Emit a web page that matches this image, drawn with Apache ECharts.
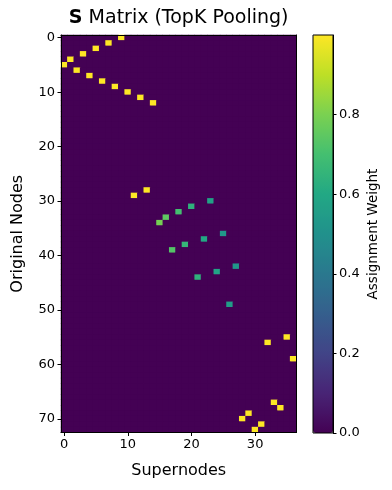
<!DOCTYPE html>
<html><head><meta charset="utf-8">
<script src="https://cdn.jsdelivr.net/npm/echarts@6/dist/echarts.min.js"></script>
<style>html,body{margin:0;padding:0;background:#fff}#c{width:392px;height:490px}</style>
</head><body><div id="c"></div>
<script>
// Matrix size
const nRows = 73;   // Original Nodes
const nCols = 37;   // Supernodes
// Non-zero assignments (row, column, weight)
const rowIdx = [0,1,2,3,4,5,6,7,8,9,10,11,12,
  28,29,30,31,32,33,34,36,37,38,39,42,43,44,49,
  55,56,59,67,68,69,70,71,72];
const colIdx = [9,7,5,3,1,0,2,4,6,8,10,12,14,
  13,11,23,20,18,16,15,25,22,19,17,27,24,21,26,
  35,32,36,33,34,29,28,31,30];
const weights = [1.0,1.0,1.0,1.0,1.0,1.0,1.0,1.0,1.0,1.0,1.0,1.0,1.0,
  1.0,1.0,0.57,0.64,0.70,0.75,0.79,0.53,0.60,0.66,0.73,0.52,0.58,0.64,0.55,
  1.0,1.0,1.0,1.0,1.0,1.0,1.0,1.0,1.0];
const xTickLabels = ['0','10','20','30'];
const yTickLabels = ['0','10','20','30','40','50','60','70'];
const cbarTicks = [0.0,0.2,0.4,0.6,0.8];

const viridis = ['#440154','#482475','#414487','#355f8d','#2a788e','#21918c','#22a884','#44bf70','#7ad151','#bddf26','#fde725'];

const xCats = Array.from({length:nCols},(_,i)=>String(i));
const yCats = Array.from({length:nRows},(_,i)=>String(i));
const grid = [];
for (let r=0;r<nRows;r++) { grid.push(new Array(nCols).fill(0)); }
rowIdx.forEach((r,k)=>{ grid[r][colIdx[k]] = weights[k]; });
const data = [];
for (let r=0;r<nRows;r++) for (let c=0;c<nCols;c++) data.push([c,r,grid[r][c]]);

const font = 'DejaVu Sans';
const chart = echarts.init(document.getElementById('c'));
const frameAxis = {show:true,axisLine:{show:true,lineStyle:{color:'#000',width:1}},axisTick:{show:false},axisLabel:{show:false},splitLine:{show:false}};
chart.setOption({
  animation:false,
  backgroundColor:'#fff',
  title:{
    text:'{b|S} Matrix (TopK Pooling)',
    left:178.7, textAlign:'center', top:9, padding:0,
    textStyle:{fontFamily:font,fontSize:19,fontWeight:'normal',color:'#000',
      rich:{b:{fontFamily:font,fontSize:19,fontWeight:'bold',color:'#000'}}}
  },
  grid:[
    {left:61,top:35,width:235.5,height:397.5,show:true,borderWidth:0,backgroundColor:viridis[0]},
    {left:313,top:35,width:20,height:398,show:true,borderColor:'#000',borderWidth:1,backgroundColor:'transparent',z:10}
  ],
  xAxis:[
    {type:'category',gridIndex:0,data:xCats,position:'bottom',
      name:'Supernodes',nameLocation:'middle',nameGap:30,
      nameTextStyle:{fontFamily:font,fontSize:16,color:'#000'},
      axisLine:{show:true,lineStyle:{color:'#000',width:1}},
      axisTick:{show:true,alignWithLabel:true,length:3.5,lineStyle:{color:'#000'},interval:(i,v)=>xTickLabels.includes(v)},
      axisLabel:{fontFamily:font,fontSize:13,color:'#000',margin:6,interval:(i,v)=>xTickLabels.includes(v)},
      splitLine:{show:false},splitArea:{show:false},z:10},
    {type:'category',gridIndex:1,data:['a'],show:false},
    Object.assign({type:'category',gridIndex:0,data:xCats,position:'top',z:10},frameAxis)
  ],
  yAxis:[
    {type:'category',gridIndex:0,data:yCats,inverse:true,
      name:'Original Nodes',nameLocation:'middle',nameGap:35,
      nameTextStyle:{fontFamily:font,fontSize:16,color:'#000'},
      axisLine:{show:true,lineStyle:{color:'#000',width:1}},
      axisTick:{show:true,alignWithLabel:true,length:3.5,lineStyle:{color:'#000'},interval:(i,v)=>yTickLabels.includes(v)},
      axisLabel:{fontFamily:font,fontSize:13,color:'#000',margin:6,interval:(i,v)=>yTickLabels.includes(v)},
      splitLine:{show:false},splitArea:{show:false},z:10},
    {type:'value',gridIndex:1,min:0,max:1.0,interval:0.2,position:'right',
      name:'Assignment Weight',nameLocation:'middle',nameGap:33,nameRotate:90,
      nameTextStyle:{fontFamily:font,fontSize:13.5,color:'#000'},
      axisLine:{show:true,lineStyle:{color:'#000'}},
      axisTick:{show:true,length:3.5,lineStyle:{color:'#000'}},
      axisLabel:{fontFamily:font,fontSize:13,color:'#000',margin:6,showMaxLabel:false,
        formatter:v=>cbarTicks.some(t=>Math.abs(t-v)<1e-6)?v.toFixed(1):''},
      splitLine:{show:false}},
    Object.assign({type:'category',gridIndex:0,data:yCats,inverse:true,position:'right',z:10},frameAxis)
  ],
  visualMap:{
    type:'continuous',min:0,max:1.0,dimension:2,seriesIndex:0,
    calculable:false,show:true,orient:'vertical',
    left:313,top:35,padding:0,itemWidth:20,itemHeight:398,
    text:null,showLabel:false,hoverLink:false,
    inRange:{color:viridis}
  },
  series:[{
    type:'heatmap',xAxisIndex:0,yAxisIndex:0,data:data,
    itemStyle:{borderWidth:0},emphasis:{disabled:true},progressive:0
  }]
});
</script></body></html>
